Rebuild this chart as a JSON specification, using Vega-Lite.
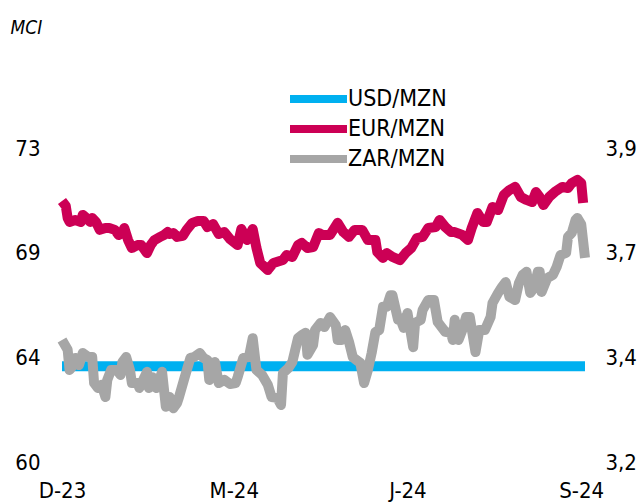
{
  "$schema": "https://vega.github.io/schema/vega-lite/v6.json",
  "width": 523,
  "height": 314,
  "autosize": {"type": "none"},
  "padding": {"left": 62, "top": 148, "right": 56, "bottom": 40},
  "background": "white",
  "config": {
    "view": {"stroke": null},
    "font": "DejaVu Sans Condensed",
    "axis": {"grid": false, "domain": false, "ticks": false, "tickSize": 0, "labelFont": "DejaVu Sans Condensed", "labelFontSize": 22, "labelColor": "#000000", "labelOverlap": false}
  },
  "data": {
    "values": [
      {"date": "2023-12-01", "series": "USD/MZN", "value": 63.96},
      {"date": "2024-01-01", "series": "USD/MZN", "value": 63.96},
      {"date": "2024-02-01", "series": "USD/MZN", "value": 63.96},
      {"date": "2024-03-01", "series": "USD/MZN", "value": 63.96},
      {"date": "2024-04-01", "series": "USD/MZN", "value": 63.96},
      {"date": "2024-05-01", "series": "USD/MZN", "value": 63.96},
      {"date": "2024-06-01", "series": "USD/MZN", "value": 63.96},
      {"date": "2024-07-01", "series": "USD/MZN", "value": 63.96},
      {"date": "2024-08-01", "series": "USD/MZN", "value": 63.96},
      {"date": "2024-09-01", "series": "USD/MZN", "value": 63.96},
      {"date": "2024-09-03", "series": "USD/MZN", "value": 63.96},

      {"date": "2023-12-01", "series": "EUR/MZN", "value": 70.81},
      {"date": "2023-12-03", "series": "EUR/MZN", "value": 70.60},
      {"date": "2023-12-04", "series": "EUR/MZN", "value": 70.10},
      {"date": "2023-12-05", "series": "EUR/MZN", "value": 69.94},
      {"date": "2023-12-08", "series": "EUR/MZN", "value": 70.02},
      {"date": "2023-12-11", "series": "EUR/MZN", "value": 69.94},
      {"date": "2023-12-12", "series": "EUR/MZN", "value": 70.23},
      {"date": "2023-12-14", "series": "EUR/MZN", "value": 70.10},
      {"date": "2023-12-16", "series": "EUR/MZN", "value": 69.94},
      {"date": "2023-12-17", "series": "EUR/MZN", "value": 70.10},
      {"date": "2023-12-19", "series": "EUR/MZN", "value": 69.94},
      {"date": "2023-12-21", "series": "EUR/MZN", "value": 69.61},
      {"date": "2023-12-24", "series": "EUR/MZN", "value": 69.69},
      {"date": "2023-12-26", "series": "EUR/MZN", "value": 69.69},
      {"date": "2023-12-29", "series": "EUR/MZN", "value": 69.61},
      {"date": "2023-12-31", "series": "EUR/MZN", "value": 69.40},
      {"date": "2024-01-02", "series": "EUR/MZN", "value": 69.48},
      {"date": "2024-01-03", "series": "EUR/MZN", "value": 69.69},
      {"date": "2024-01-05", "series": "EUR/MZN", "value": 69.19},
      {"date": "2024-01-07", "series": "EUR/MZN", "value": 68.86},
      {"date": "2024-01-10", "series": "EUR/MZN", "value": 68.98},
      {"date": "2024-01-12", "series": "EUR/MZN", "value": 68.98},
      {"date": "2024-01-15", "series": "EUR/MZN", "value": 68.65},
      {"date": "2024-01-17", "series": "EUR/MZN", "value": 68.98},
      {"date": "2024-01-19", "series": "EUR/MZN", "value": 69.19},
      {"date": "2024-01-22", "series": "EUR/MZN", "value": 69.32},
      {"date": "2024-01-24", "series": "EUR/MZN", "value": 69.40},
      {"date": "2024-01-26", "series": "EUR/MZN", "value": 69.52},
      {"date": "2024-01-27", "series": "EUR/MZN", "value": 69.44},
      {"date": "2024-01-29", "series": "EUR/MZN", "value": 69.48},
      {"date": "2024-01-31", "series": "EUR/MZN", "value": 69.32},
      {"date": "2024-02-03", "series": "EUR/MZN", "value": 69.36},
      {"date": "2024-02-05", "series": "EUR/MZN", "value": 69.61},
      {"date": "2024-02-08", "series": "EUR/MZN", "value": 69.90},
      {"date": "2024-02-11", "series": "EUR/MZN", "value": 69.98},
      {"date": "2024-02-14", "series": "EUR/MZN", "value": 69.98},
      {"date": "2024-02-16", "series": "EUR/MZN", "value": 69.73},
      {"date": "2024-02-19", "series": "EUR/MZN", "value": 69.85},
      {"date": "2024-02-22", "series": "EUR/MZN", "value": 69.44},
      {"date": "2024-02-25", "series": "EUR/MZN", "value": 69.52},
      {"date": "2024-02-28", "series": "EUR/MZN", "value": 69.23},
      {"date": "2024-03-03", "series": "EUR/MZN", "value": 68.98},
      {"date": "2024-03-05", "series": "EUR/MZN", "value": 69.65},
      {"date": "2024-03-08", "series": "EUR/MZN", "value": 69.19},
      {"date": "2024-03-11", "series": "EUR/MZN", "value": 69.65},
      {"date": "2024-03-13", "series": "EUR/MZN", "value": 68.86},
      {"date": "2024-03-15", "series": "EUR/MZN", "value": 68.24},
      {"date": "2024-03-19", "series": "EUR/MZN", "value": 67.95},
      {"date": "2024-03-22", "series": "EUR/MZN", "value": 68.24},
      {"date": "2024-03-27", "series": "EUR/MZN", "value": 68.36},
      {"date": "2024-03-29", "series": "EUR/MZN", "value": 68.57},
      {"date": "2024-04-01", "series": "EUR/MZN", "value": 68.49},
      {"date": "2024-04-04", "series": "EUR/MZN", "value": 68.98},
      {"date": "2024-04-06", "series": "EUR/MZN", "value": 69.07},
      {"date": "2024-04-09", "series": "EUR/MZN", "value": 68.86},
      {"date": "2024-04-12", "series": "EUR/MZN", "value": 68.90},
      {"date": "2024-04-15", "series": "EUR/MZN", "value": 69.48},
      {"date": "2024-04-17", "series": "EUR/MZN", "value": 69.40},
      {"date": "2024-04-21", "series": "EUR/MZN", "value": 69.40},
      {"date": "2024-04-25", "series": "EUR/MZN", "value": 69.90},
      {"date": "2024-04-28", "series": "EUR/MZN", "value": 69.52},
      {"date": "2024-05-01", "series": "EUR/MZN", "value": 69.32},
      {"date": "2024-05-04", "series": "EUR/MZN", "value": 69.61},
      {"date": "2024-05-08", "series": "EUR/MZN", "value": 69.61},
      {"date": "2024-05-11", "series": "EUR/MZN", "value": 69.19},
      {"date": "2024-05-15", "series": "EUR/MZN", "value": 69.19},
      {"date": "2024-05-16", "series": "EUR/MZN", "value": 68.69},
      {"date": "2024-05-19", "series": "EUR/MZN", "value": 68.45},
      {"date": "2024-05-21", "series": "EUR/MZN", "value": 68.65},
      {"date": "2024-05-24", "series": "EUR/MZN", "value": 68.49},
      {"date": "2024-05-28", "series": "EUR/MZN", "value": 68.36},
      {"date": "2024-05-31", "series": "EUR/MZN", "value": 68.65},
      {"date": "2024-06-03", "series": "EUR/MZN", "value": 68.86},
      {"date": "2024-06-06", "series": "EUR/MZN", "value": 69.27},
      {"date": "2024-06-09", "series": "EUR/MZN", "value": 69.32},
      {"date": "2024-06-12", "series": "EUR/MZN", "value": 69.69},
      {"date": "2024-06-16", "series": "EUR/MZN", "value": 69.73},
      {"date": "2024-06-18", "series": "EUR/MZN", "value": 70.02},
      {"date": "2024-06-21", "series": "EUR/MZN", "value": 69.73},
      {"date": "2024-06-24", "series": "EUR/MZN", "value": 69.52},
      {"date": "2024-06-26", "series": "EUR/MZN", "value": 69.52},
      {"date": "2024-06-30", "series": "EUR/MZN", "value": 69.40},
      {"date": "2024-07-03", "series": "EUR/MZN", "value": 69.19},
      {"date": "2024-07-05", "series": "EUR/MZN", "value": 69.69},
      {"date": "2024-07-08", "series": "EUR/MZN", "value": 70.31},
      {"date": "2024-07-11", "series": "EUR/MZN", "value": 69.94},
      {"date": "2024-07-13", "series": "EUR/MZN", "value": 69.94},
      {"date": "2024-07-16", "series": "EUR/MZN", "value": 70.56},
      {"date": "2024-07-19", "series": "EUR/MZN", "value": 70.43},
      {"date": "2024-07-22", "series": "EUR/MZN", "value": 71.05},
      {"date": "2024-07-25", "series": "EUR/MZN", "value": 71.26},
      {"date": "2024-07-28", "series": "EUR/MZN", "value": 71.39},
      {"date": "2024-07-31", "series": "EUR/MZN", "value": 70.97},
      {"date": "2024-08-03", "series": "EUR/MZN", "value": 70.85},
      {"date": "2024-08-06", "series": "EUR/MZN", "value": 70.76},
      {"date": "2024-08-08", "series": "EUR/MZN", "value": 71.18},
      {"date": "2024-08-10", "series": "EUR/MZN", "value": 70.97},
      {"date": "2024-08-12", "series": "EUR/MZN", "value": 70.64},
      {"date": "2024-08-15", "series": "EUR/MZN", "value": 70.97},
      {"date": "2024-08-18", "series": "EUR/MZN", "value": 71.18},
      {"date": "2024-08-22", "series": "EUR/MZN", "value": 71.39},
      {"date": "2024-08-25", "series": "EUR/MZN", "value": 71.34},
      {"date": "2024-08-27", "series": "EUR/MZN", "value": 71.55},
      {"date": "2024-08-30", "series": "EUR/MZN", "value": 71.68},
      {"date": "2024-09-01", "series": "EUR/MZN", "value": 71.55},
      {"date": "2024-09-02", "series": "EUR/MZN", "value": 70.72},

      {"date": "2023-12-01", "series": "ZAR/MZN", "value": 3.472},
      {"date": "2023-12-04", "series": "ZAR/MZN", "value": 3.450},
      {"date": "2023-12-05", "series": "ZAR/MZN", "value": 3.405},
      {"date": "2023-12-07", "series": "ZAR/MZN", "value": 3.416},
      {"date": "2023-12-08", "series": "ZAR/MZN", "value": 3.432},
      {"date": "2023-12-10", "series": "ZAR/MZN", "value": 3.416},
      {"date": "2023-12-12", "series": "ZAR/MZN", "value": 3.443},
      {"date": "2023-12-15", "series": "ZAR/MZN", "value": 3.434},
      {"date": "2023-12-17", "series": "ZAR/MZN", "value": 3.434},
      {"date": "2023-12-18", "series": "ZAR/MZN", "value": 3.376},
      {"date": "2023-12-20", "series": "ZAR/MZN", "value": 3.365},
      {"date": "2023-12-22", "series": "ZAR/MZN", "value": 3.372},
      {"date": "2023-12-24", "series": "ZAR/MZN", "value": 3.345},
      {"date": "2023-12-25", "series": "ZAR/MZN", "value": 3.383},
      {"date": "2023-12-27", "series": "ZAR/MZN", "value": 3.405},
      {"date": "2023-12-30", "series": "ZAR/MZN", "value": 3.405},
      {"date": "2024-01-01", "series": "ZAR/MZN", "value": 3.394},
      {"date": "2024-01-02", "series": "ZAR/MZN", "value": 3.423},
      {"date": "2024-01-04", "series": "ZAR/MZN", "value": 3.434},
      {"date": "2024-01-06", "series": "ZAR/MZN", "value": 3.405},
      {"date": "2024-01-07", "series": "ZAR/MZN", "value": 3.376},
      {"date": "2024-01-10", "series": "ZAR/MZN", "value": 3.376},
      {"date": "2024-01-11", "series": "ZAR/MZN", "value": 3.365},
      {"date": "2024-01-13", "series": "ZAR/MZN", "value": 3.383},
      {"date": "2024-01-15", "series": "ZAR/MZN", "value": 3.401},
      {"date": "2024-01-16", "series": "ZAR/MZN", "value": 3.365},
      {"date": "2024-01-18", "series": "ZAR/MZN", "value": 3.389},
      {"date": "2024-01-20", "series": "ZAR/MZN", "value": 3.365},
      {"date": "2024-01-23", "series": "ZAR/MZN", "value": 3.401},
      {"date": "2024-01-25", "series": "ZAR/MZN", "value": 3.323},
      {"date": "2024-01-27", "series": "ZAR/MZN", "value": 3.345},
      {"date": "2024-01-29", "series": "ZAR/MZN", "value": 3.320},
      {"date": "2024-01-31", "series": "ZAR/MZN", "value": 3.332},
      {"date": "2024-02-01", "series": "ZAR/MZN", "value": 3.345},
      {"date": "2024-02-04", "series": "ZAR/MZN", "value": 3.389},
      {"date": "2024-02-07", "series": "ZAR/MZN", "value": 3.432},
      {"date": "2024-02-09", "series": "ZAR/MZN", "value": 3.434},
      {"date": "2024-02-12", "series": "ZAR/MZN", "value": 3.443},
      {"date": "2024-02-14", "series": "ZAR/MZN", "value": 3.432},
      {"date": "2024-02-16", "series": "ZAR/MZN", "value": 3.427},
      {"date": "2024-02-17", "series": "ZAR/MZN", "value": 3.383},
      {"date": "2024-02-20", "series": "ZAR/MZN", "value": 3.423},
      {"date": "2024-02-22", "series": "ZAR/MZN", "value": 3.376},
      {"date": "2024-02-25", "series": "ZAR/MZN", "value": 3.383},
      {"date": "2024-02-28", "series": "ZAR/MZN", "value": 3.374},
      {"date": "2024-03-02", "series": "ZAR/MZN", "value": 3.376},
      {"date": "2024-03-03", "series": "ZAR/MZN", "value": 3.389},
      {"date": "2024-03-06", "series": "ZAR/MZN", "value": 3.432},
      {"date": "2024-03-09", "series": "ZAR/MZN", "value": 3.434},
      {"date": "2024-03-11", "series": "ZAR/MZN", "value": 3.476},
      {"date": "2024-03-13", "series": "ZAR/MZN", "value": 3.405},
      {"date": "2024-03-16", "series": "ZAR/MZN", "value": 3.394},
      {"date": "2024-03-19", "series": "ZAR/MZN", "value": 3.372},
      {"date": "2024-03-21", "series": "ZAR/MZN", "value": 3.345},
      {"date": "2024-03-24", "series": "ZAR/MZN", "value": 3.343},
      {"date": "2024-03-26", "series": "ZAR/MZN", "value": 3.327},
      {"date": "2024-03-27", "series": "ZAR/MZN", "value": 3.398},
      {"date": "2024-03-30", "series": "ZAR/MZN", "value": 3.410},
      {"date": "2024-04-01", "series": "ZAR/MZN", "value": 3.423},
      {"date": "2024-04-04", "series": "ZAR/MZN", "value": 3.476},
      {"date": "2024-04-06", "series": "ZAR/MZN", "value": 3.483},
      {"date": "2024-04-08", "series": "ZAR/MZN", "value": 3.488},
      {"date": "2024-04-09", "series": "ZAR/MZN", "value": 3.439},
      {"date": "2024-04-12", "series": "ZAR/MZN", "value": 3.461},
      {"date": "2024-04-13", "series": "ZAR/MZN", "value": 3.494},
      {"date": "2024-04-16", "series": "ZAR/MZN", "value": 3.510},
      {"date": "2024-04-18", "series": "ZAR/MZN", "value": 3.501},
      {"date": "2024-04-21", "series": "ZAR/MZN", "value": 3.523},
      {"date": "2024-04-24", "series": "ZAR/MZN", "value": 3.505},
      {"date": "2024-04-25", "series": "ZAR/MZN", "value": 3.472},
      {"date": "2024-04-27", "series": "ZAR/MZN", "value": 3.472},
      {"date": "2024-04-29", "series": "ZAR/MZN", "value": 3.494},
      {"date": "2024-05-01", "series": "ZAR/MZN", "value": 3.468},
      {"date": "2024-05-03", "series": "ZAR/MZN", "value": 3.434},
      {"date": "2024-05-05", "series": "ZAR/MZN", "value": 3.427},
      {"date": "2024-05-07", "series": "ZAR/MZN", "value": 3.421},
      {"date": "2024-05-09", "series": "ZAR/MZN", "value": 3.376},
      {"date": "2024-05-11", "series": "ZAR/MZN", "value": 3.405},
      {"date": "2024-05-13", "series": "ZAR/MZN", "value": 3.443},
      {"date": "2024-05-15", "series": "ZAR/MZN", "value": 3.490},
      {"date": "2024-05-17", "series": "ZAR/MZN", "value": 3.494},
      {"date": "2024-05-19", "series": "ZAR/MZN", "value": 3.546},
      {"date": "2024-05-21", "series": "ZAR/MZN", "value": 3.546},
      {"date": "2024-05-23", "series": "ZAR/MZN", "value": 3.572},
      {"date": "2024-05-24", "series": "ZAR/MZN", "value": 3.572},
      {"date": "2024-05-27", "series": "ZAR/MZN", "value": 3.517},
      {"date": "2024-05-28", "series": "ZAR/MZN", "value": 3.521},
      {"date": "2024-05-30", "series": "ZAR/MZN", "value": 3.499},
      {"date": "2024-06-01", "series": "ZAR/MZN", "value": 3.532},
      {"date": "2024-06-04", "series": "ZAR/MZN", "value": 3.456},
      {"date": "2024-06-05", "series": "ZAR/MZN", "value": 3.510},
      {"date": "2024-06-08", "series": "ZAR/MZN", "value": 3.517},
      {"date": "2024-06-09", "series": "ZAR/MZN", "value": 3.539},
      {"date": "2024-06-12", "series": "ZAR/MZN", "value": 3.561},
      {"date": "2024-06-15", "series": "ZAR/MZN", "value": 3.561},
      {"date": "2024-06-17", "series": "ZAR/MZN", "value": 3.512},
      {"date": "2024-06-19", "series": "ZAR/MZN", "value": 3.501},
      {"date": "2024-06-21", "series": "ZAR/MZN", "value": 3.490},
      {"date": "2024-06-24", "series": "ZAR/MZN", "value": 3.488},
      {"date": "2024-06-25", "series": "ZAR/MZN", "value": 3.472},
      {"date": "2024-06-26", "series": "ZAR/MZN", "value": 3.517},
      {"date": "2024-06-28", "series": "ZAR/MZN", "value": 3.472},
      {"date": "2024-06-30", "series": "ZAR/MZN", "value": 3.494},
      {"date": "2024-07-02", "series": "ZAR/MZN", "value": 3.523},
      {"date": "2024-07-04", "series": "ZAR/MZN", "value": 3.523},
      {"date": "2024-07-07", "series": "ZAR/MZN", "value": 3.445},
      {"date": "2024-07-09", "series": "ZAR/MZN", "value": 3.494},
      {"date": "2024-07-12", "series": "ZAR/MZN", "value": 3.494},
      {"date": "2024-07-15", "series": "ZAR/MZN", "value": 3.523},
      {"date": "2024-07-16", "series": "ZAR/MZN", "value": 3.554},
      {"date": "2024-07-19", "series": "ZAR/MZN", "value": 3.577},
      {"date": "2024-07-21", "series": "ZAR/MZN", "value": 3.590},
      {"date": "2024-07-23", "series": "ZAR/MZN", "value": 3.601},
      {"date": "2024-07-25", "series": "ZAR/MZN", "value": 3.568},
      {"date": "2024-07-28", "series": "ZAR/MZN", "value": 3.561},
      {"date": "2024-07-30", "series": "ZAR/MZN", "value": 3.599},
      {"date": "2024-08-01", "series": "ZAR/MZN", "value": 3.617},
      {"date": "2024-08-03", "series": "ZAR/MZN", "value": 3.624},
      {"date": "2024-08-05", "series": "ZAR/MZN", "value": 3.577},
      {"date": "2024-08-07", "series": "ZAR/MZN", "value": 3.588},
      {"date": "2024-08-09", "series": "ZAR/MZN", "value": 3.624},
      {"date": "2024-08-10", "series": "ZAR/MZN", "value": 3.624},
      {"date": "2024-08-11", "series": "ZAR/MZN", "value": 3.579},
      {"date": "2024-08-14", "series": "ZAR/MZN", "value": 3.610},
      {"date": "2024-08-17", "series": "ZAR/MZN", "value": 3.617},
      {"date": "2024-08-19", "series": "ZAR/MZN", "value": 3.635},
      {"date": "2024-08-21", "series": "ZAR/MZN", "value": 3.661},
      {"date": "2024-08-24", "series": "ZAR/MZN", "value": 3.666},
      {"date": "2024-08-25", "series": "ZAR/MZN", "value": 3.702},
      {"date": "2024-08-27", "series": "ZAR/MZN", "value": 3.711},
      {"date": "2024-08-29", "series": "ZAR/MZN", "value": 3.740},
      {"date": "2024-08-30", "series": "ZAR/MZN", "value": 3.744},
      {"date": "2024-09-01", "series": "ZAR/MZN", "value": 3.730},
      {"date": "2024-09-03", "series": "ZAR/MZN", "value": 3.655}
    ]
  },
  "layer": [
    {
      "transform": [{"filter": "datum.series !== 'ZAR/MZN'"}],
      "mark": {"type": "line", "strokeWidth": 10, "strokeJoin": "round", "strokeCap": "butt"},
      "encoding": {
        "x": {
          "field": "date", "type": "temporal",
          "scale": {"type": "utc", "domain": [{"year": 2023, "month": "dec", "date": 1, "utc": true}, {"year": 2024, "month": "sep", "date": 3, "utc": true}]},
          "axis": {
            "values": [
              {"year": 2023, "month": "dec", "date": 1, "utc": true},
              {"year": 2024, "month": "mar", "date": 1, "utc": true},
              {"year": 2024, "month": "jun", "date": 1, "utc": true},
              {"year": 2024, "month": "sep", "date": 1, "utc": true}
            ],
            "labelExpr": "slice(utcFormat(datum.value, '%b'), 0, 1) + '-' + utcFormat(datum.value, '%y')",
            "labelFlush": false,
            "labelPadding": 18,
            "title": null
          }
        },
        "y": {
          "field": "value", "type": "quantitative",
          "scale": {"domain": [60, 73], "zero": false, "nice": false},
          "axis": {
            "orient": "left", "values": [60, 64.3333, 68.6667, 73], "format": ".0f", "labelPadding": 22,
            "title": "MCI",
            "titleAngle": 0,
            "titleX": -52,
            "titleY": -115,
            "titleAlign": "left",
            "titleBaseline": "alphabetic",
            "titleFont": "DejaVu Sans Condensed",
            "titleFontStyle": "italic",
            "titleFontWeight": "normal",
            "titleFontSize": 19,
            "titleColor": "#000000"
          }
        },
        "color": {
          "field": "series", "type": "nominal",
          "scale": {"domain": ["USD/MZN", "EUR/MZN", "ZAR/MZN"], "range": ["#00B0F0", "#CC0055", "#A6A6A6"]},
          "legend": {
            "title": null,
            "orient": "none",
            "legendX": 261,
            "legendY": -63,
            "direction": "vertical",
            "symbolType": "M-4.7,0H1",
            "symbolSize": 400,
            "symbolStrokeWidth": 8,
            "labelFont": "DejaVu Sans Condensed",
            "labelFontSize": 23,
            "labelColor": "#000000",
            "labelOffset": -3,
            "rowPadding": -3,
            "padding": 0
          }
        }
      }
    },
    {
      "transform": [{"filter": "datum.series === 'ZAR/MZN'"}],
      "mark": {"type": "line", "strokeWidth": 10, "strokeJoin": "round", "strokeCap": "butt"},
      "encoding": {
        "x": {"field": "date", "type": "temporal"},
        "y": {
          "field": "value", "type": "quantitative",
          "scale": {"domain": [3.2, 3.9], "zero": false, "nice": false},
          "axis": {"orient": "right", "values": [3.2, 3.4333, 3.6667, 3.9], "labelExpr": "replace(format(datum.value, '.1f'), '.', ',')", "labelPadding": 20, "title": null}
        },
        "color": {"field": "series", "type": "nominal"}
      }
    }
  ],
  "resolve": {"scale": {"y": "independent"}}
}
